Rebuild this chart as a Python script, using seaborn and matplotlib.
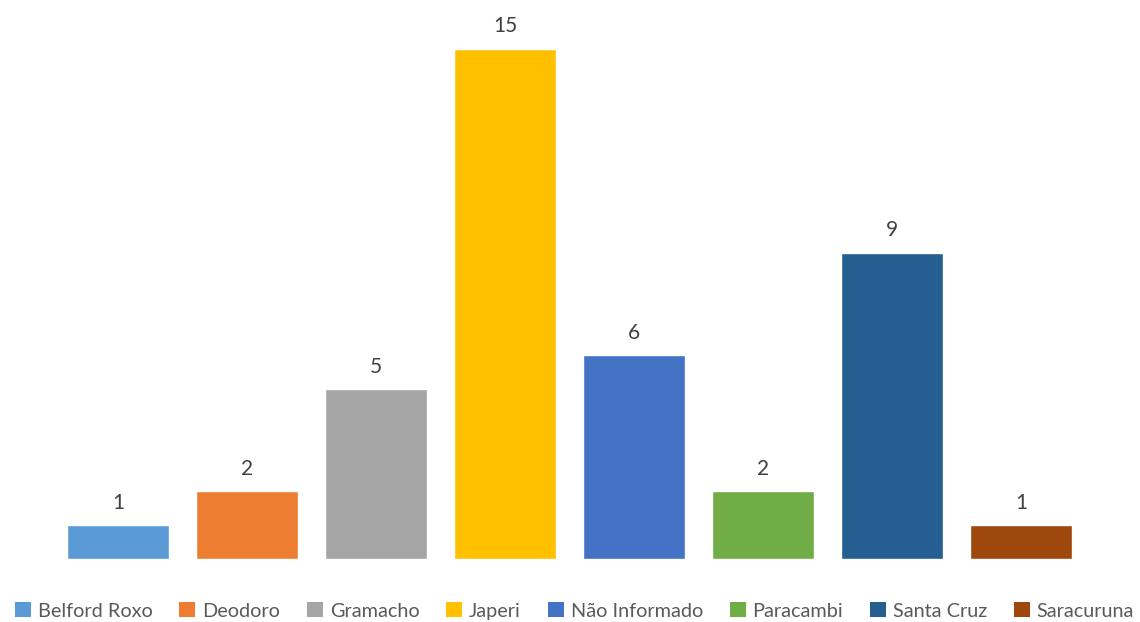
import matplotlib
matplotlib.use("Agg")
import matplotlib.pyplot as plt
import seaborn as sns
import pandas as pd
from matplotlib.patches import Patch

categories = ["Belford Roxo", "Deodoro", "Gramacho", "Japeri",
              "Não Informado", "Paracambi", "Santa Cruz", "Saracuruna"]
values = [1, 2, 5, 15, 6, 2, 9, 1]
colors = ["#5B9BD5", "#ED7D31", "#A5A5A5", "#FFC000",
          "#4472C4", "#70AD47", "#255E91", "#9E480E"]

sns.set_theme(style="white")
plt.rcParams["font.family"] = ["Lato", "DejaVu Sans"]

df = pd.DataFrame({"local": categories, "total": values})

fig = plt.figure(figsize=(11.4, 6.22), dpi=100)
ax = fig.add_axes([0.0469, 0.1005, 0.9053, 0.8762])

sns.barplot(data=df, x="local", y="total", hue="local", palette=colors,
            dodge=False, width=0.79, legend=False, saturation=1, ax=ax)

for container in ax.containers:
    ax.bar_label(container, fmt="%d", padding=9, fontsize=15, color="#404040")

ax.set_ylim(0, 16)
ax.set_xlim(-0.5, len(categories) - 0.5)
ax.set_xlabel("")
ax.set_ylabel("")
ax.set_xticks([])
ax.set_yticks([])
for s in ax.spines.values():
    s.set_visible(False)

handles = [Patch(facecolor=c, edgecolor="none") for c in colors]
fig.legend(handles, categories, loc="center", bbox_to_anchor=(0.504, 0.0177),
           ncol=len(categories), frameon=False, fontsize=14.3,
           handlelength=0.8, handleheight=0.8, handletextpad=0.35,
           columnspacing=1.35, labelcolor="#595959", borderpad=0)

fig.savefig("out.png", dpi=100)
